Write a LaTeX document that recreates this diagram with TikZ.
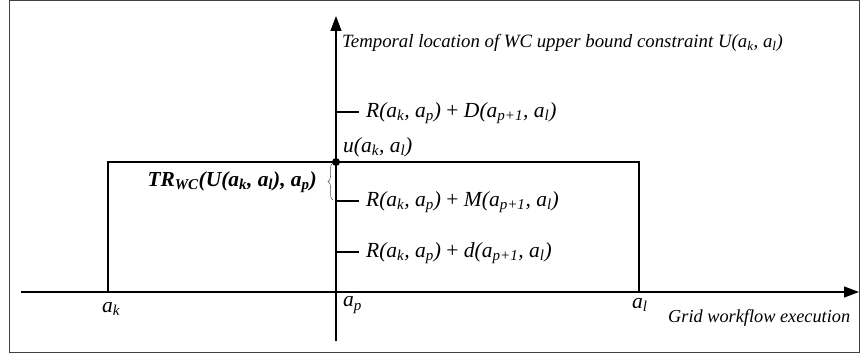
\documentclass[tikz,border=0pt]{standalone}
\usepackage{fontspec}
\setmainfont{Liberation Serif}
\usetikzlibrary{arrows.meta,decorations.pathreplacing}
\newcommand\sbs[1]{\textsubscript{#1}}
\begin{document}
\begin{tikzpicture}[x=1pt,y=-1pt,
  axis/.style={line width=1.2pt,-{Triangle[length=15pt,width=11pt]}},
  ln/.style={line width=1.1pt},
  lbl/.style={inner sep=0pt,anchor=west,font=\fontsize{21.5}{23}\selectfont\itshape},
  small/.style={inner sep=0pt,anchor=west,font=\fontsize{18.8}{21}\selectfont\itshape},
  tick/.style={line width=1.1pt}]
\useasboundingbox (0,0) rectangle (860,353);
\draw[line width=1pt,draw=black!75] (9,1) rectangle (859,352);
% axes
\coordinate (vb) at (336,341);
\coordinate (vt) at (336,16);
\coordinate (hl) at (21,292);
\coordinate (hr) at (859,292);
\draw[axis] (vb) -- (vt);
\draw[axis] (hl) -- (hr);
% rectangle
\coordinate (r1) at (108,292);
\coordinate (r2) at (108,162);
\coordinate (r3) at (639,162);
\coordinate (r4) at (639,292);
\draw[ln] (r1) -- (r2) -- (r3) -- (r4);
\fill (336,162) circle (4);
% ticks
\coordinate (t1a) at (336,112); \coordinate (t1b) at (359,112);
\coordinate (t2a) at (336,201); \coordinate (t2b) at (359,201);
\coordinate (t3a) at (336,252); \coordinate (t3b) at (359,252);
\draw[tick] (t1a) -- (t1b);
\draw[tick] (t2a) -- (t2b);
\draw[tick] (t3a) -- (t3b);
% brace
\coordinate (bb) at (333,200);
\coordinate (bt) at (333,163);
\draw[line width=0.5pt,draw=black!70,decorate,decoration={brace,amplitude=5pt}] (bb) -- (bt);
% labels
\node[small] (temp) at (342,43) {Temporal location of WC upper bound constraint U(a\sbs{k}, a\sbs{l})};
\node[lbl] (rD) at (366,113) {R(a\sbs{k}, a\sbs{p}) \upshape+\itshape\ D(a\sbs{p+1}, a\sbs{l})};
\node[lbl] (u) at (343,147) {u(a\sbs{k}, a\sbs{l})};
\node[lbl] (rM) at (366,202) {R(a\sbs{k}, a\sbs{p}) \upshape+\itshape\ M(a\sbs{p+1}, a\sbs{l})};
\node[lbl] (rd) at (366,253) {R(a\sbs{k}, a\sbs{p}) \upshape+\itshape\ d(a\sbs{p+1}, a\sbs{l})};
\node[lbl,font=\fontsize{21.4}{23}\selectfont\bfseries\itshape,anchor=east] (tr) at (317,182) {TR\sbs{WC}(U(a\sbs{k}, a\sbs{l}), a\sbs{p})};
\node[lbl] (ak) at (102,309) {a\sbs{k}};
\node[lbl] (ap) at (343,305) {a\sbs{p}};
\node[lbl] (al) at (632,305) {a\sbs{l}};
\node[small,font=\fontsize{18.3}{20}\selectfont\itshape] (gw) at (668,318) {Grid workflow execution};
\end{tikzpicture}
\end{document}
